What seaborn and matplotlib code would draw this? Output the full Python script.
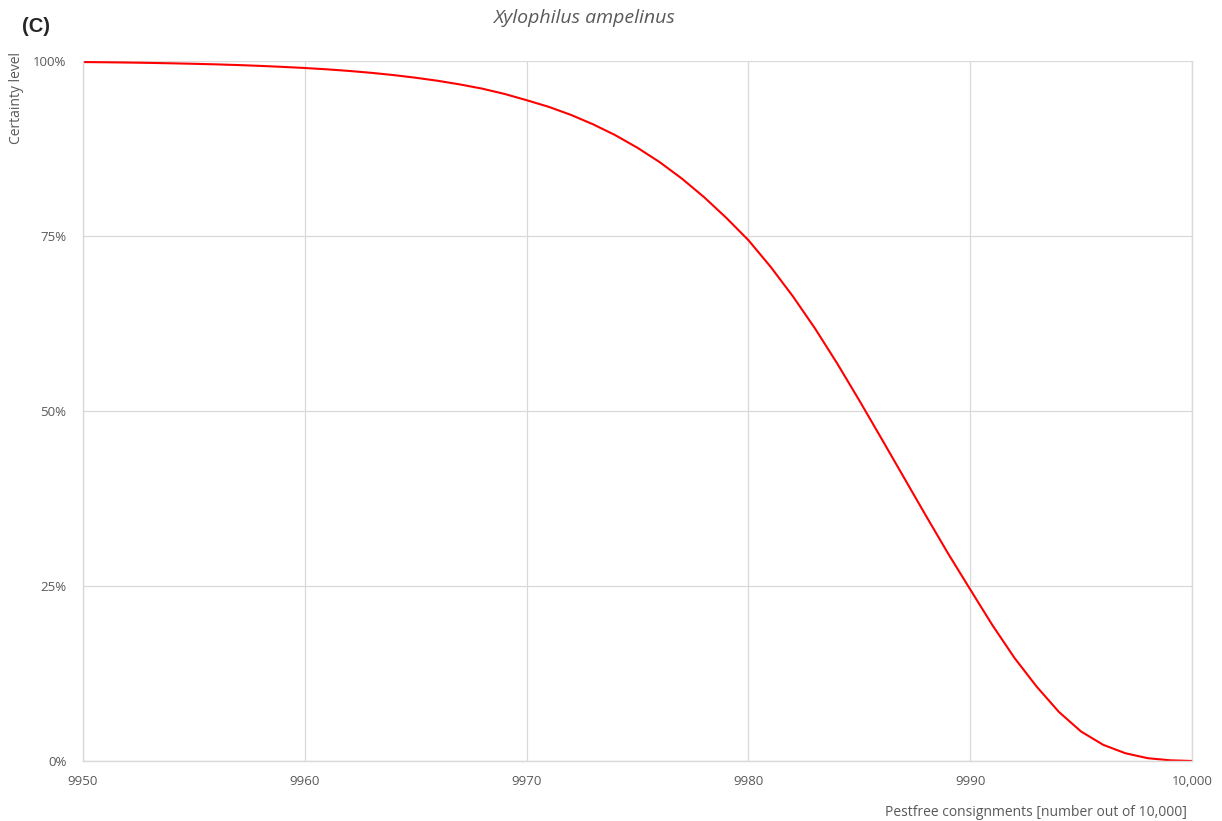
import pandas as pd
import seaborn as sns
import matplotlib.pyplot as plt
from matplotlib.ticker import FuncFormatter

# Values (one per consignment count)
pestfree = list(range(9950, 10001))
certainty = [
    99.85, 99.82, 99.78, 99.73, 99.67, 99.60, 99.52, 99.42, 99.30, 99.16,
    99.00, 98.81, 98.58, 98.31, 97.99, 97.61, 97.17, 96.65, 96.05, 95.30,
    94.40, 93.45, 92.30, 90.95, 89.40, 87.60, 85.55, 83.20, 80.55, 77.60,
    74.40, 70.60, 66.40, 61.80, 56.80, 51.50, 46.05, 40.55, 35.05, 29.65,
    24.50, 19.40, 14.70, 10.60, 7.00, 4.20, 2.30, 1.10, 0.40, 0.10,
    0.00,
]
x_ticks = [9950, 9960, 9970, 9980, 9990, 10000]
y_ticks = [0, 25, 50, 75, 100]

df = pd.DataFrame({'Pestfree': pestfree, 'Certainty': certainty})

sns.set_style("white")
plt.rcParams['font.family'] = ['Open Sans', 'DejaVu Sans']

fig = plt.figure(figsize=(12.22, 8.21), dpi=100)
ax = fig.add_axes([0.0679, 0.0731, 0.9076, 0.8526])

sns.lineplot(data=df, x='Pestfree', y='Certainty', color='#ff0000', linewidth=1.5, ax=ax)

ax.set_xlim(9950, 10000)
ax.set_ylim(0, 100)
ax.set_xticks(x_ticks)
ax.set_yticks(y_ticks)
ax.xaxis.set_major_formatter(FuncFormatter(lambda v, p: f"{int(v):,}" if v >= 10000 else f"{int(v)}"))
ax.yaxis.set_major_formatter(FuncFormatter(lambda v, p: f"{int(v)}%"))
ax.grid(True, color='#d9d9d9', linewidth=0.9)
ax.tick_params(length=0, labelsize=9.5, labelcolor='#595959')
ax.tick_params(axis='x', pad=10)
ax.tick_params(axis='y', pad=12)
ax.spines['top'].set_visible(False)
for side in ['left', 'bottom', 'right']:
    ax.spines[side].set_color('#d9d9d9')
    ax.spines[side].set_linewidth(1.0)
ax.set_xlabel("")
ax.set_ylabel("")

fig.text(0.478, 1 - 18 / 821, "Xylophilus ampelinus", ha='center', va='center',
         fontsize=14, style='italic', color='#595959')
fig.text(22 / 1222, 1 - 27 / 821, "(C)", ha='left', va='center',
         fontsize=14.5, fontweight='bold', family=['Liberation Sans', 'DejaVu Sans'])
fig.text(17 / 1222, 1 - 98 / 821, "Certainty level", ha='center', va='center',
         rotation=90, fontsize=10, color='#595959')
fig.text(1187 / 1222, 1 - 812 / 821, "Pestfree consignments [number out of 10,000]",
         ha='right', va='center', fontsize=10, color='#595959')

plt.savefig("out.png", dpi=100)
